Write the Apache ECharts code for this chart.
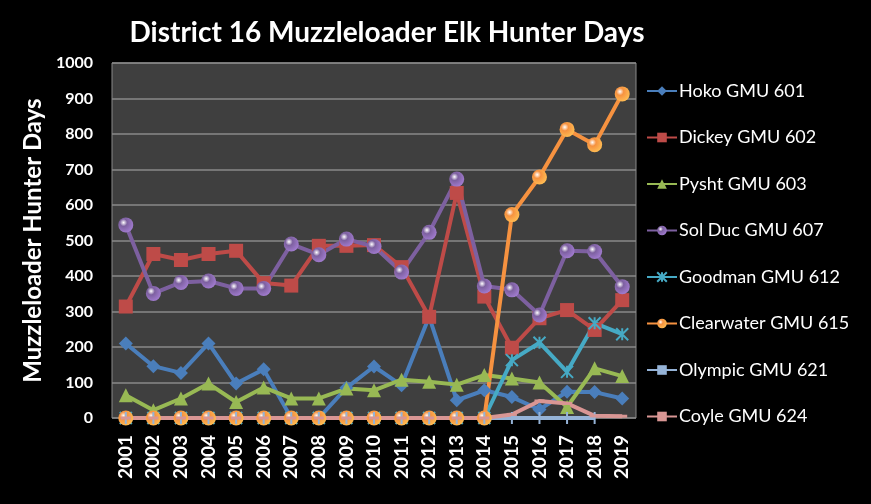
<!DOCTYPE html>
<html>
<head>
<meta charset="utf-8">
<script src="https://cdn.jsdelivr.net/npm/echarts@6/dist/echarts.min.js"></script>
<style>
  html, body { margin: 0; padding: 0; background: #000; }
  #chart { width: 871px; height: 504px; }
</style>
</head>
<body>
<div id="chart"></div>
<script>
// data
var years = ['2001','2002','2003','2004','2005','2006','2007','2008','2009','2010',
             '2011','2012','2013','2014','2015','2016','2017','2018','2019'];
var hoko      = [210, 146, 127, 210, 97, 137, 0, 0, 85, 145, 92, 285, 50, 78, 59, 24, 74, 73, 55];
var dickey    = [314, 462, 445, 462, 471, 380, 373, 485, 485, 487, 425, 285, 634, 342, 198, 281, 304, 248, 332];
var pysht     = [64, 22, 55, 97, 45, 86, 55, 55, 83, 78, 108, 102, 94, 121, 111, 100, 31, 140, 118];
var solDuc    = [544, 351, 382, 386, 365, 365, 490, 460, 504, 483, 411, 523, 673, 372, 361, 290, 471, 469, 370];
var goodman   = [0, 0, 0, 0, 0, 0, 0, 0, 0, 0, 0, 0, 0, 0, 163, 212, 130, 267, 236];
var clearwater= [0, 0, 0, 0, 0, 0, 0, 0, 0, 0, 0, 0, 0, 0, 573, 679, 813, 770, 913];
var olympic   = [0, 0, 0, 0, 0, 0, 0, 0, 0, 0, 0, 0, 0, 0, 0, 0, 0, 0, null];
var coyle     = [0, 0, 0, 0, 0, 0, 0, 0, 0, 0, 0, 0, 0, 0, 10, 48, 41, 6, 5];

var chart = echarts.init(document.getElementById('chart'));

function shade(c) {//球形高光
    return new echarts.graphic.RadialGradient(0.35, 0.35, 0.7, [
        {offset: 0, color: '#ffffff'},
        {offset: 0.35, color: c},
        {offset: 1, color: echarts.color.lift(c, -0.3)}
    ]);
}

function line(name, data, color, symbol, size) {
    return {
        name: name,
        type: 'line',
        data: data,
        symbol: symbol,
        symbolSize: size,
        lineStyle: {width: 4, color: color},
        itemStyle: {color: symbol === 'circle' ? shade(color) : color, borderWidth: 0},
        emphasis: {disabled: true}
    };
}

var option = {
    backgroundColor: '#000',
    animation: false,
    textStyle: {fontFamily: 'Lato'},
    title: {
        text: 'District 16 Muzzleloader Elk Hunter Days',
        left: 382,
        textAlign: 'center',
        top: 14,
        textStyle: {color: '#fff', fontSize: 28, fontWeight: 'bold', fontFamily: 'Lato'}
    },
    grid: {
        left: 112, top: 63, right: 235, bottom: 86,
        show: true,
        backgroundColor: '#3f3f3f',
        borderColor: '#8a8a8a',
        borderWidth: 1
    },
    legend: {
        orient: 'vertical',
        left: 641,
        top: 77,
        itemGap: 28.5,
        itemWidth: 30,
        itemHeight: 12,
        textStyle: {color: '#fff', fontSize: 18, fontFamily: 'Lato', padding: [0, 0, 0, -3]},
        data: ['Hoko GMU 601','Dickey GMU 602','Pysht GMU 603','Sol Duc GMU 607',
               'Goodman GMU 612','Clearwater GMU 615','Olympic GMU 621','Coyle GMU 624']
    },
    xAxis: {
        type: 'category',
        data: years,
        boundaryGap: true,
        axisLine: {show: false},
        axisTick: {show: false},
        axisLabel: {color: '#fff', fontSize: 19, fontWeight: 'bold', rotate: 90, margin: 17, interval: 0}
    },
    yAxis: {
        type: 'value',
        min: 0, max: 1000, interval: 100,
        name: 'Muzzleloader Hunter Days',
        nameLocation: 'middle',
        nameGap: 62,
        nameTextStyle: {color: '#fff', fontSize: 24, fontWeight: 'bold', fontFamily: 'Lato'},
        axisLine: {show: false},
        axisTick: {show: false},
        axisLabel: {color: '#fff', fontSize: 16, fontWeight: 'bold', margin: 19,
                    formatter: function (v) { return String(v); }},
        splitLine: {lineStyle: {color: '#8a8a8a', width: 1.5}}
    },
    series: [
        line('Hoko GMU 601', hoko, '#4a7ebb', 'diamond', 14),
        line('Dickey GMU 602', dickey, '#be4b48', 'rect', 14),
        line('Pysht GMU 603', pysht, '#98b954', 'triangle', 14),
        line('Sol Duc GMU 607', solDuc, '#7d60a0', 'circle', 15),
        line('Goodman GMU 612', goodman, '#46aac5', 'path://M0,0L10,10M10,0L0,10M5,0L5,10', 12),
        line('Clearwater GMU 615', clearwater, '#f69240', 'circle', 15),
        line('Olympic GMU 621', olympic, '#95b3d7', 'rect', [2, 12]),
        line('Coyle GMU 624', coyle, '#d99694', 'rect', [10, 3])
    ]
};
// 星号标记只描边
option.series[4].itemStyle = {color: '#46aac5', borderColor: '#46aac5', borderWidth: 2};
chart.setOption(option);
</script>
</body>
</html>
